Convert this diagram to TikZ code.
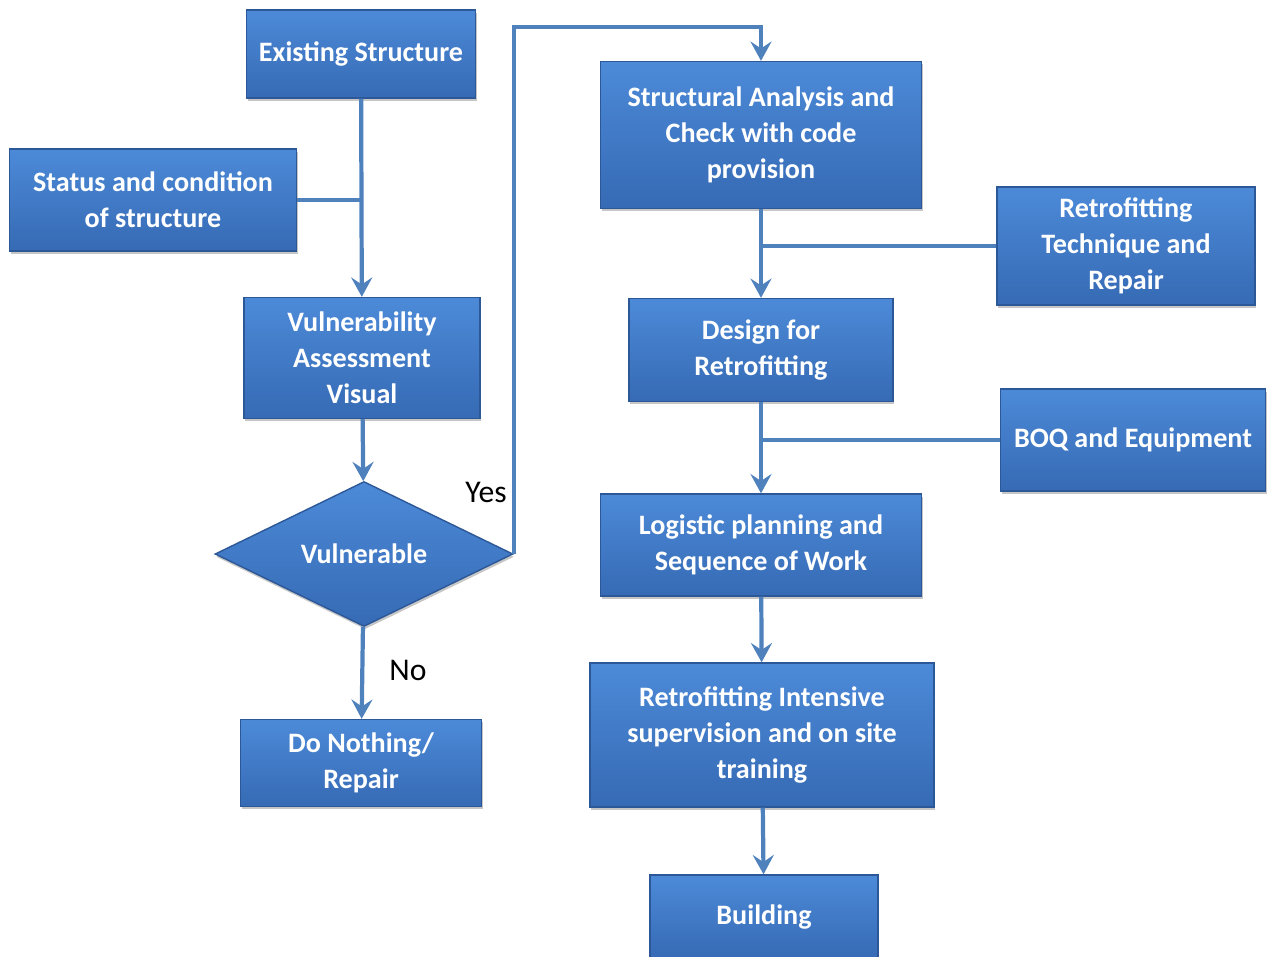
\documentclass[tikz,border=0pt]{standalone}
\usepackage{fontspec}
\setmainfont{Carlito}
\usetikzlibrary{shapes.geometric,arrows.meta,shadows}

\definecolor{boxtop}{RGB}{76,138,216}
\definecolor{boxbot}{RGB}{54,106,180}
\definecolor{boxedge}{RGB}{44,88,152}
\definecolor{flowline}{RGB}{79,129,189}

\begin{document}
\begin{tikzpicture}[x=0.02cm,y=-0.02cm]
        \tikzstyle{box}=[rectangle, top color=boxtop, bottom color=boxbot, draw=boxedge, line width=0.8pt,
            drop shadow={shadow xshift=0.6pt, shadow yshift=-1.6pt, opacity=0.45},
            text=white, font=\fontsize{16}{20.5}\selectfont\bfseries, align=center, inner sep=2pt]
        \tikzstyle{flow}=[draw=flowline, line width=2.4pt]
        \tikzstyle{arr}=[flow, -{Stealth[length=11pt,width=12pt,inset=4pt]}]
        \tikzstyle{lbl}=[font=\fontsize{18}{20}\selectfont, text=black]
        \useasboundingbox (0,0) rectangle (1272,957);

        % left column
        \node[box, minimum width=4.58cm, minimum height=1.76cm] (ex) at (361,54) {Existing Structure};
        \node[box, minimum width=5.74cm, minimum height=2.04cm] (st) at (153,200) {Status and condition\\of structure};
        \node[box, minimum width=4.72cm, minimum height=2.42cm] (vul) at (362,358) {Vulnerability\\Assessment\\Visual};
        \node[box, diamond, minimum width=5.96cm, minimum height=2.9cm, aspect=2.05, inner sep=0pt] (dia) at (364,554) {Vulnerable};
        \node[box, minimum width=4.82cm, minimum height=1.74cm] (dn) at (361,763) {Do Nothing/\\Repair};

        % right column
        \node[box, minimum width=6.42cm, minimum height=2.94cm] (sa) at (761,135) {Structural Analysis and\\Check with code\\provision};
        \node[box, minimum width=5.16cm, minimum height=2.36cm] (rt) at (1126,246) {Retrofitting\\Technique and\\Repair};
        \node[box, minimum width=5.28cm, minimum height=2.06cm] (dr) at (761,350) {Design for\\Retrofitting};
        \node[box, minimum width=5.3cm, minimum height=2.04cm] (boq) at (1133,440) {BOQ and Equipment};
        \node[box, minimum width=6.42cm, minimum height=2.04cm] (lp) at (761,545) {Logistic planning and\\Sequence of Work};
        \node[box, minimum width=6.88cm, minimum height=2.88cm] (ri) at (762,735) {Retrofitting Intensive\\supervision and on site\\training};
        \node[box, minimum width=4.56cm, minimum height=1.68cm] (bd) at (764,917) {Building};

        \coordinate (yestop) at (513,27);

        % connectors
        \draw[arr] (ex) -- (vul);
        \draw[flow] (st.east) -- (st.east -| ex.south);
        \draw[arr] (vul) -- (dia);
        \draw[arr] (dia) -- (dn);
        \node[lbl] (no) at (408,670) {No};
        \draw[arr] (dia.east) -- (dia.east |- yestop) -| (sa.north);
        \node[lbl] (yes) at (486,492) {Yes};
        \draw[arr] (sa) -- (dr);
        \draw[flow] (rt.west) -- (rt.west -| sa.south);
        \draw[arr] (dr) -- (lp);
        \draw[flow] (boq.west) -- (boq.west -| dr.south);
        \draw[arr] (lp) -- (ri);
        \draw[arr] (ri) -- (bd);
    \end{tikzpicture}
\end{document}
